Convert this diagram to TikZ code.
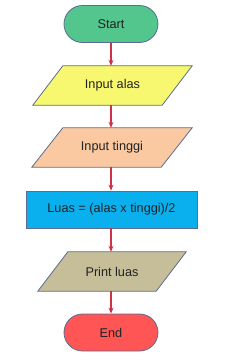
\documentclass[tikz,border=0pt]{standalone}
\usepackage{fontspec}
\setmainfont{Liberation Sans}
\usetikzlibrary{arrows.meta,calc}
\definecolor{bord}{HTML}{5B6C8F}
\definecolor{arr}{HTML}{CC3344}
\definecolor{cstart}{HTML}{52C68C}
\definecolor{cin1}{HTML}{F8F870}
\definecolor{cin2}{HTML}{FAC9A2}
\definecolor{cproc}{HTML}{0AB0EE}
\definecolor{cout}{HTML}{C5BE98}
\definecolor{cend}{HTML}{FF5555}
\definecolor{txt}{HTML}{222222}
\begin{document}
\begin{tikzpicture}[x=1pt,y=-1pt,
  every node/.style={font=\fontsize{12.7}{15}\selectfont, text=txt, inner sep=0pt},
  term/.style={draw=bord, line width=0.8pt, rounded corners=18.5pt, minimum width=94pt, minimum height=37pt},
  iobox/.style={minimum height=39pt},
  procbox/.style={draw=bord, line width=0.8pt, fill=cproc, minimum width=171pt, minimum height=37pt},
  flow/.style={draw=arr, line width=1.1pt, -{Stealth[length=6pt,width=5pt]}}]
\useasboundingbox (0,0) rectangle (225,362);
\node[term, fill=cstart] (start) at (111,24) {Start};
\node[iobox, minimum width=159pt] (in1) at (112.5,85.5) {};
\node[iobox, minimum width=160pt] (in2) at (112,147.5) {};
\node[procbox] (proc) at (111.5,209.5) {Luas = (alas x tinggi)/2};
\node[iobox, minimum width=148pt] (out) at (112,271.5) {};
\node[term, fill=cend] (end) at (111,332.5) {End};
\draw[bord, line width=0.8pt, fill=cin1] (in1.south west) -- ($(in1.north west)+(30,0)$) -- (in1.north east) -- ($(in1.south east)-(30,0)$) -- cycle;
\draw[bord, line width=0.8pt, fill=cin2] (in2.south west) -- ($(in2.north west)+(31,0)$) -- (in2.north east) -- ($(in2.south east)-(31,0)$) -- cycle;
\draw[bord, line width=0.8pt, fill=cout] (out.south west) -- ($(out.north west)+(30,0)$) -- (out.north east) -- ($(out.south east)-(30,0)$) -- cycle;
\node at (in1.center) {Input alas};
\node at (in2.center) {Input tinggi};
\node at (out.center) {Print luas};
\draw[flow] (start.south) -- (start.south |- in1.north);
\draw[flow] (start.south |- in1.south) -- (start.south |- in2.north);
\draw[flow] (start.south |- in2.south) -- (start.south |- proc.north);
\draw[flow] (start.south |- proc.south) -- (start.south |- out.north);
\draw[flow] (start.south |- out.south) -- (end.north);
\end{tikzpicture}
\end{document}
